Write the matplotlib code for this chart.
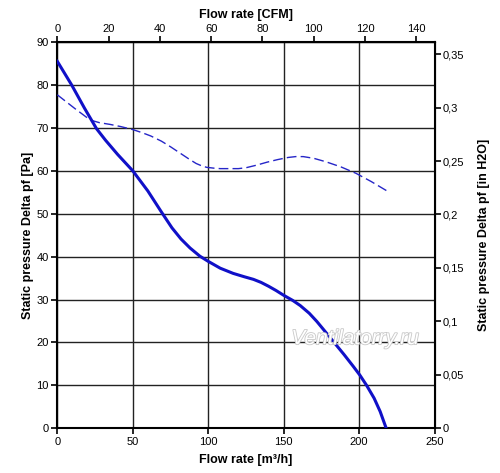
import numpy as np
import matplotlib
matplotlib.use('Agg')
import matplotlib.pyplot as plt
import matplotlib.patheffects as pe
from matplotlib.ticker import FuncFormatter, MultipleLocator

plt.rcParams['font.family'] = ['Liberation Sans', 'DejaVu Sans']

# Fan curve: static pressure [Pa] vs flow rate [m3/h]
flow_solid = [0, 9.5, 18, 23, 26, 32, 40, 50, 60, 69, 76, 82, 88, 94.5, 100,
              108, 116.5, 124, 130, 135, 140, 145, 150, 156, 161, 167, 172, 176,
              183, 190, 196, 200.5, 205, 210, 214, 218]
pres_solid = [85.5, 80, 74.6, 71.6, 69.8, 67.1, 63.8, 60, 55.3, 50.4, 46.7, 44.1, 42, 40.1, 38.9,
              37.3, 36.1, 35.3, 34.7, 34.0, 33.1, 32.1, 31, 29.8, 28.6, 26.8, 24.9, 23.2,
              20.2, 17.2, 14.5, 12.4, 10, 7.0, 3.9, 0]

# Dashed curve (same axes)
flow_dash = [0, 12, 20, 23, 28, 35, 42, 50, 56, 62, 69, 75, 81, 87, 92, 96, 99,
             104, 108, 114, 120, 125, 132, 139, 146, 153, 158, 163, 170, 178,
             188, 198, 208, 219]
pres_dash = [77.7, 74.4, 72.3, 71.7, 71.2, 70.8, 70.3, 69.6, 68.9, 68.1, 66.9, 65.6, 64.2, 62.8,
             61.7, 61.1, 60.8, 60.6, 60.5, 60.5, 60.5, 60.7, 61.3, 62, 62.6, 63.1, 63.3, 63.3,
             62.9, 62.1, 60.9, 59.4, 57.5, 55.2]

M3H_PER_CFM = 1.699
PA_PER_INH2O = 249.09

fig = plt.figure(figsize=(5.0, 4.73), dpi=100)
ax = fig.add_axes([0.1146, 0.0945, 0.7544, 0.8167])

ax.plot(flow_dash, pres_dash, color='#2626c8', linewidth=1.0,
        linestyle=(0, (7, 3)), zorder=3)
ax.plot(flow_solid, pres_solid, color='#1010c8', linewidth=2.2, zorder=4,
        solid_joinstyle='round')

ax.set_xlim(0, 250)
ax.set_ylim(0, 90)
ax.xaxis.set_major_locator(MultipleLocator(50))
ax.yaxis.set_major_locator(MultipleLocator(10))
ax.grid(True, color='#222222', linewidth=1.0)
ax.set_axisbelow(True)
for s in ax.spines.values():
    s.set_linewidth(1.5)
ax.tick_params(direction='out', length=4, width=1.2, labelsize=8, pad=2)

ax.set_xlabel('Flow rate [m³/h]', fontsize=9, fontweight='bold', labelpad=5)
ax.set_ylabel('Static pressure Delta pf [Pa]', fontsize=9, fontweight='bold', labelpad=2)

# top axis in CFM
top = ax.secondary_xaxis('top', functions=(lambda q: q / M3H_PER_CFM,
                                           lambda c: c * M3H_PER_CFM))
top.xaxis.set_major_locator(MultipleLocator(20))
top.tick_params(direction='out', length=4, width=1.2, labelsize=8, pad=2)
top.set_xlabel('Flow rate [CFM]', fontsize=9, fontweight='bold', labelpad=4)


def comma_fmt(v, pos):
    if abs(v) < 1e-9:
        return '0'
    return f'{v:.2f}'.rstrip('0').rstrip('.').replace('.', ',')


# right axis in inches of water
right = ax.secondary_yaxis('right', functions=(lambda p: p / PA_PER_INH2O,
                                               lambda h: h * PA_PER_INH2O))
right.yaxis.set_major_locator(MultipleLocator(0.05))
right.yaxis.set_major_formatter(FuncFormatter(comma_fmt))
right.tick_params(direction='out', length=4, width=1.2, labelsize=8, pad=2)
right.set_ylabel('Static pressure Delta pf [in H2O]', fontsize=9, fontweight='bold',
                 rotation=90, labelpad=10)

# watermark
ax.text(0.79, 0.232, 'Ventilatorry.ru', transform=ax.transAxes, fontsize=15,
        style='italic', color='white', ha='center', va='center', zorder=5,
        path_effects=[pe.withStroke(linewidth=1.2, foreground='#c8c8c8')])

fig.savefig('out.png', dpi=100)
